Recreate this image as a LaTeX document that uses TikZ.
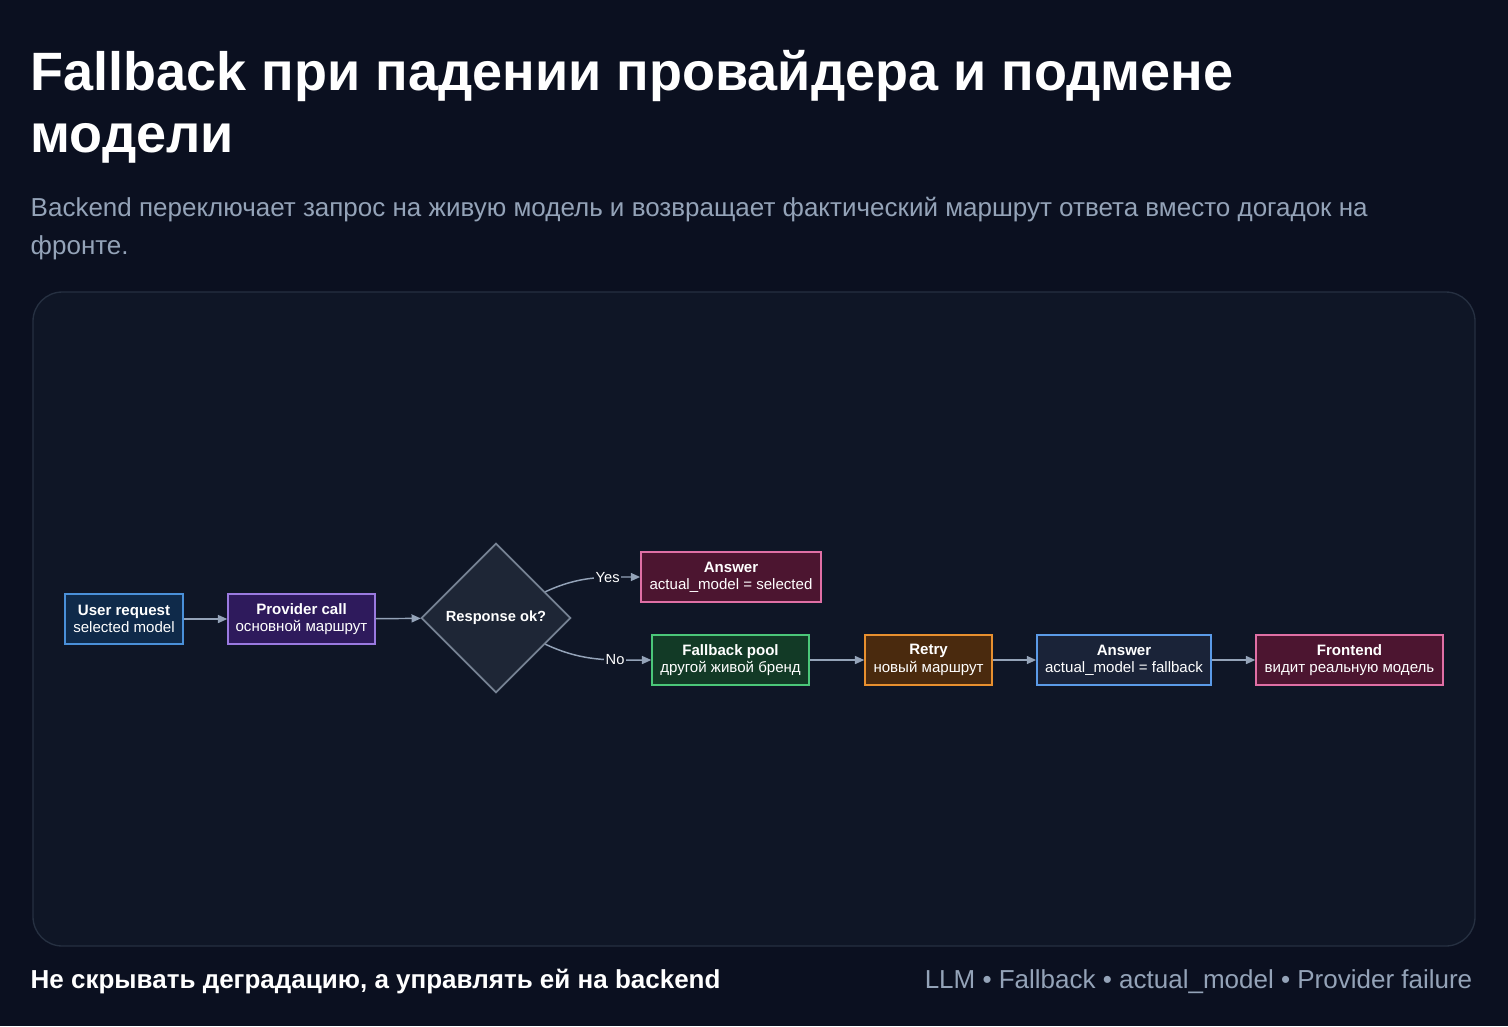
\documentclass[tikz,border=0pt]{standalone}
\usepackage{fontspec}
\setmainfont{Liberation Sans}
\usetikzlibrary{shapes.geometric,arrows.meta,positioning}
\definecolor{bgc}{HTML}{0B1020}
\definecolor{panel}{HTML}{0F1626}
\definecolor{panelline}{HTML}{263041}
\definecolor{subc}{HTML}{94A3B8}
\definecolor{edgec}{HTML}{94A3B8}
\definecolor{reqfill}{HTML}{0F2A4A}\definecolor{reqline}{HTML}{4A90D9}
\definecolor{callfill}{HTML}{2E1A5C}\definecolor{callline}{HTML}{9A7AE0}
\definecolor{okfill}{HTML}{1E2636}
\definecolor{ansfill}{HTML}{4C1530}\definecolor{ansline}{HTML}{E06FA5}
\definecolor{poolfill}{HTML}{123A26}\definecolor{poolline}{HTML}{4BC779}
\definecolor{retryfill}{HTML}{4A2A0E}\definecolor{retryline}{HTML}{E8902F}
\definecolor{anstwofill}{HTML}{1A2338}\definecolor{anstwoline}{HTML}{5B9BE8}
\tikzset{
  box/.style={draw, line width=1.3pt, minimum height=37.5pt, inner sep=2pt,
    align=center, text=white, font=\fontsize{11.3}{13}\selectfont},
  flow/.style={-{Triangle[length=7pt,width=6pt]}, draw=edgec, line width=1.1pt},
  lbl/.style={fill=panel, inner sep=1pt, text=white, font=\fontsize{11}{12}\selectfont}
}
\begin{document}
\begin{tikzpicture}[x=0.75pt,y=-0.75pt]
\fill[bgc] (0,0) rectangle (1508,1026);
\useasboundingbox (0,0) rectangle (1508,1026);
% heading
\node[anchor=north west, text=white, align=left, font=\bfseries\fontsize{40.5}{46}\selectfont] (title) at (26,46)
  {Fallback при падении провайдера и подмене\\модели};
\node[anchor=north west, text=subc, align=left, font=\fontsize{19.5}{29}\selectfont] (sub) at (26,192)
  {Backend переключает запрос на живую модель и возвращает фактический маршрут ответа вместо догадок на\\фронте.};
% panel
\draw[panelline, fill=panel, line width=1pt, rounded corners=22pt] (33,292) rectangle (1475,946);
% nodes
\node[box, fill=reqfill, draw=reqline, minimum width=88pt] (req) at (124,619)
  {\textbf{User request}\\selected model};
\node[box, fill=callfill, draw=callline, minimum width=110pt] (call) at (301.5,619)
  {\textbf{Provider call}\\основной маршрут};
\node[diamond, draw=subc!80!black, fill=okfill, line width=1.3pt, minimum width=112pt, minimum height=112pt,
  inner sep=0pt, text=white, font=\bfseries\fontsize{11}{12}\selectfont] (ok) at (496,618) {Response ok?};
\node[box, fill=ansfill, draw=ansline, minimum width=135pt] (ans) at (731,577)
  {\textbf{Answer}\\actual\_model = selected};
\node[box, fill=poolfill, draw=poolline, minimum width=117.5pt] (pool) at (730.5,660)
  {\textbf{Fallback pool}\\другой живой бренд};
\node[box, fill=retryfill, draw=retryline, minimum width=95pt] (retry) at (928.5,660)
  {\textbf{Retry}\\новый маршрут};
\node[box, fill=anstwofill, draw=anstwoline, minimum width=130.5pt] (ans2) at (1124,660)
  {\textbf{Answer}\\actual\_model = fallback};
\node[box, fill=ansfill, draw=ansline, minimum width=140pt] (front) at (1349.5,660)
  {\textbf{Frontend}\\видит реальную модель};
% connectors
\draw[flow] (req) -- (call);
\draw[flow] (call) -- (ok);
\draw[flow] (ok.28) to[out=25,in=180] node[lbl, pos=0.68] {Yes} (ans.west);
\draw[flow] (ok.-28) to[out=-25,in=180] node[lbl, pos=0.68] {No} (pool.west);
\draw[flow] (pool) -- (retry);
\draw[flow] (retry) -- (ans2);
\draw[flow] (ans2) -- (front);
% footer
\node[anchor=west, text=white, font=\bfseries\fontsize{19.5}{22}\selectfont] (foot) at (26,982)
  {Не скрывать деградацию, а управлять ей на backend};
\node[anchor=east, text=subc, font=\fontsize{19.5}{22}\selectfont] (tags) at (1477,982)
  {LLM • Fallback • actual\_model • Provider failure};
\end{tikzpicture}
\end{document}
